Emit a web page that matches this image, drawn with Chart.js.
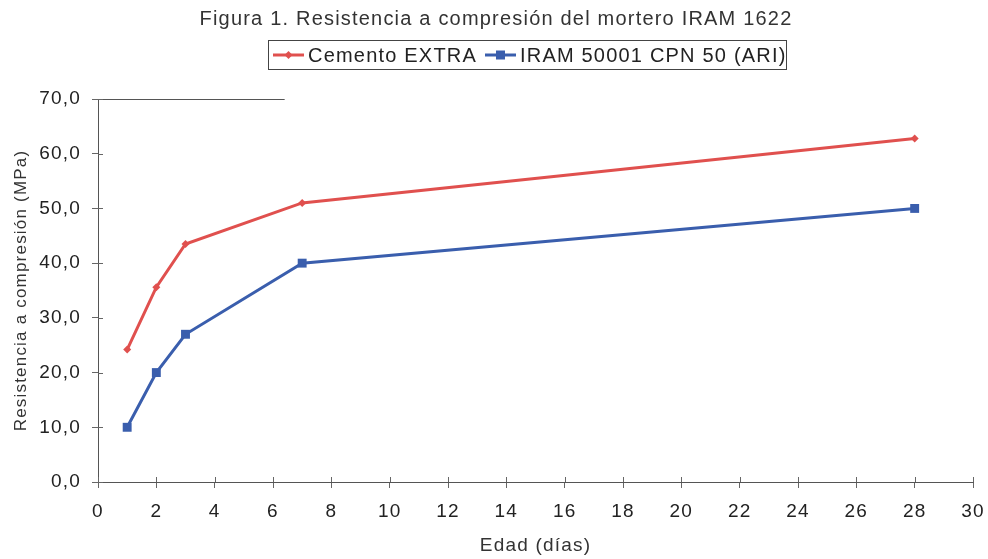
<!DOCTYPE html>
<html>
<head>
<meta charset="utf-8">
<script src="https://cdn.jsdelivr.net/npm/chart.js@4"></script>
<style>
  html, body { margin: 0; padding: 0; background: #fff; }
  #wrap { width: 988px; height: 559px; }
</style>
</head>
<body>
<div id="wrap"><canvas id="chart" width="988" height="559"></canvas></div>
<script>
// Edad (días)
const dias = [1, 2, 3, 7, 28];
// Resistencia a compresión (MPa)
const cementoExtra = [24.2, 35.6, 43.5, 51.0, 62.8];
const iramCpn50 = [10.0, 20.0, 27.0, 40.0, 50.0];
const series = ['Cemento EXTRA', 'IRAM 50001 CPN 50 (ARI)'];
const titulo = 'Figura 1. Resistencia a compresión del mortero IRAM 1622';

const ROJO = '#E0504E';
const AZUL = '#3A5EAD';
const FONT = 'Liberation Sans';
const SPACING = '1.2px';

function toPoints(xs, ys) {
    return xs.map((x, i) => ({ x: x, y: ys[i] }));
}

// espaciado de letras para todo el texto del canvas
const spacing = {
    id: 'spacing',
    beforeInit(chart) { chart.ctx.letterSpacing = SPACING; },
    beforeUpdate(chart) { chart.ctx.letterSpacing = SPACING; },
    beforeDraw(chart) { chart.ctx.letterSpacing = SPACING; },
};

// título y leyenda con marco, dibujados a mano
const header = {
    id: 'header',
    afterDraw(chart) {
        const ctx = chart.ctx;
        ctx.save();
        ctx.letterSpacing = SPACING;
        ctx.textBaseline = 'middle';

        ctx.font = '20px "' + FONT + '"';
        ctx.fillStyle = '#333';
        ctx.textAlign = 'center';
        ctx.fillText(titulo, 496, 19);

        // leyenda
        ctx.textAlign = 'left';
        ctx.fillStyle = '#222';
        const y = 55;
        const colors = [ROJO, AZUL];
        let x = 273;
        series.forEach((name, i) => {
            const c = colors[i];
            ctx.strokeStyle = c;
            ctx.lineWidth = 3;
            ctx.beginPath(); ctx.moveTo(x, y); ctx.lineTo(x + 31, y); ctx.stroke();
            ctx.fillStyle = c;
            const mx = x + 15.5;
            if (i === 0) {
                ctx.beginPath();
                ctx.moveTo(mx, y - 4); ctx.lineTo(mx + 4, y); ctx.lineTo(mx, y + 4); ctx.lineTo(mx - 4, y);
                ctx.closePath(); ctx.fill();
            } else {
                ctx.fillRect(mx - 4.5, y - 4.5, 9, 9);
            }
            ctx.fillStyle = '#222';
            ctx.fillText(name, x + 35, y + 1);
            x = x + 35 + ctx.measureText(name).width + 8;
        });
        ctx.strokeStyle = '#444';
        ctx.lineWidth = 1;
        ctx.strokeRect(268.5, 40.5, 518, 29);
        ctx.restore();
    }
};

// línea suelta en 70,0 y marcas hacia dentro de los ejes
const extras = {
    id: 'extras',
    afterDraw(chart) {
        const ctx = chart.ctx;
        const xs = chart.scales.x, ys = chart.scales.y;
        ctx.save();
        ctx.strokeStyle = '#555';
        ctx.lineWidth = 1;
        const yTop = Math.round(ys.getPixelForValue(70)) + 0.5;
        ctx.beginPath();
        ctx.moveTo(xs.getPixelForValue(0), yTop);
        ctx.lineTo(xs.getPixelForValue(6.4), yTop);
        ctx.stroke();
        ctx.strokeStyle = '#666';
        for (let v = 0; v <= 70; v += 10) {
            const py = Math.round(ys.getPixelForValue(v)) + 0.5;
            ctx.beginPath(); ctx.moveTo(xs.left, py); ctx.lineTo(xs.left + 5, py); ctx.stroke();
        }
        for (let v = 0; v <= 30; v += 2) {
            const px = Math.round(xs.getPixelForValue(v)) + 0.5;
            ctx.beginPath(); ctx.moveTo(px, ys.bottom); ctx.lineTo(px, ys.bottom - 5); ctx.stroke();
        }
        ctx.restore();
    }
};

const ctx = document.getElementById('chart').getContext('2d');
const chart = new Chart(ctx, {
    type: 'line',
    data: {
        datasets: [
            {
                label: series[0],
                data: toPoints(dias, cementoExtra),
                borderColor: ROJO,
                backgroundColor: ROJO,
                borderWidth: 3,
                pointStyle: 'rectRot',
                pointRadius: 4,
                pointBorderWidth: 0,
                fill: false,
            },
            {
                label: series[1],
                data: toPoints(dias, iramCpn50),
                borderColor: AZUL,
                backgroundColor: AZUL,
                borderWidth: 3,
                pointStyle: 'rect',
                pointRadius: 6.3,
                pointBorderWidth: 0,
                fill: false,
            },
        ],
    },
    options: {
        responsive: false,
        animation: false,
        layout: { padding: { top: 99, right: 15, bottom: 0, left: 0 } },
        plugins: {
            title: { display: false },
            legend: { display: false },
            tooltip: { enabled: false },
        },
        scales: {
            x: {
                type: 'linear',
                min: 0,
                max: 30,
                afterFit: (s) => { s.height = 77; s.paddingLeft = 0; s.paddingRight = 0; },
                ticks: { stepSize: 2, color: '#222', font: { family: FONT, size: 19 }, padding: 12 },
                grid: { drawOnChartArea: false, color: '#666', tickLength: 6, tickColor: '#666' },
                border: { color: '#555', width: 1 },
                title: {
                    display: true,
                    text: 'Edad (días)',
                    color: '#333',
                    font: { family: FONT, size: 19 },
                    padding: { top: 0, bottom: 2 },
                },
            },
            y: {
                min: 0,
                max: 70,
                afterFit: (s) => { s.width = 98; s.paddingTop = 0; s.paddingBottom = 0; },
                ticks: {
                    stepSize: 10,
                    color: '#222',
                    font: { family: FONT, size: 19 },
                    padding: 11,
                    callback: (v) => v.toFixed(1).replace('.', ','),
                },
                grid: { drawOnChartArea: false, color: '#666', tickLength: 6, tickColor: '#666' },
                border: { color: '#555', width: 1 },
                title: {
                    display: true,
                    text: 'Resistencia a compresión (MPa)',
                    color: '#333',
                    font: { family: FONT, size: 17 },
                    padding: { top: 11, bottom: 0 },
                },
            },
        },
    },
    plugins: [spacing, header, extras],
});
</script>
</body>
</html>
